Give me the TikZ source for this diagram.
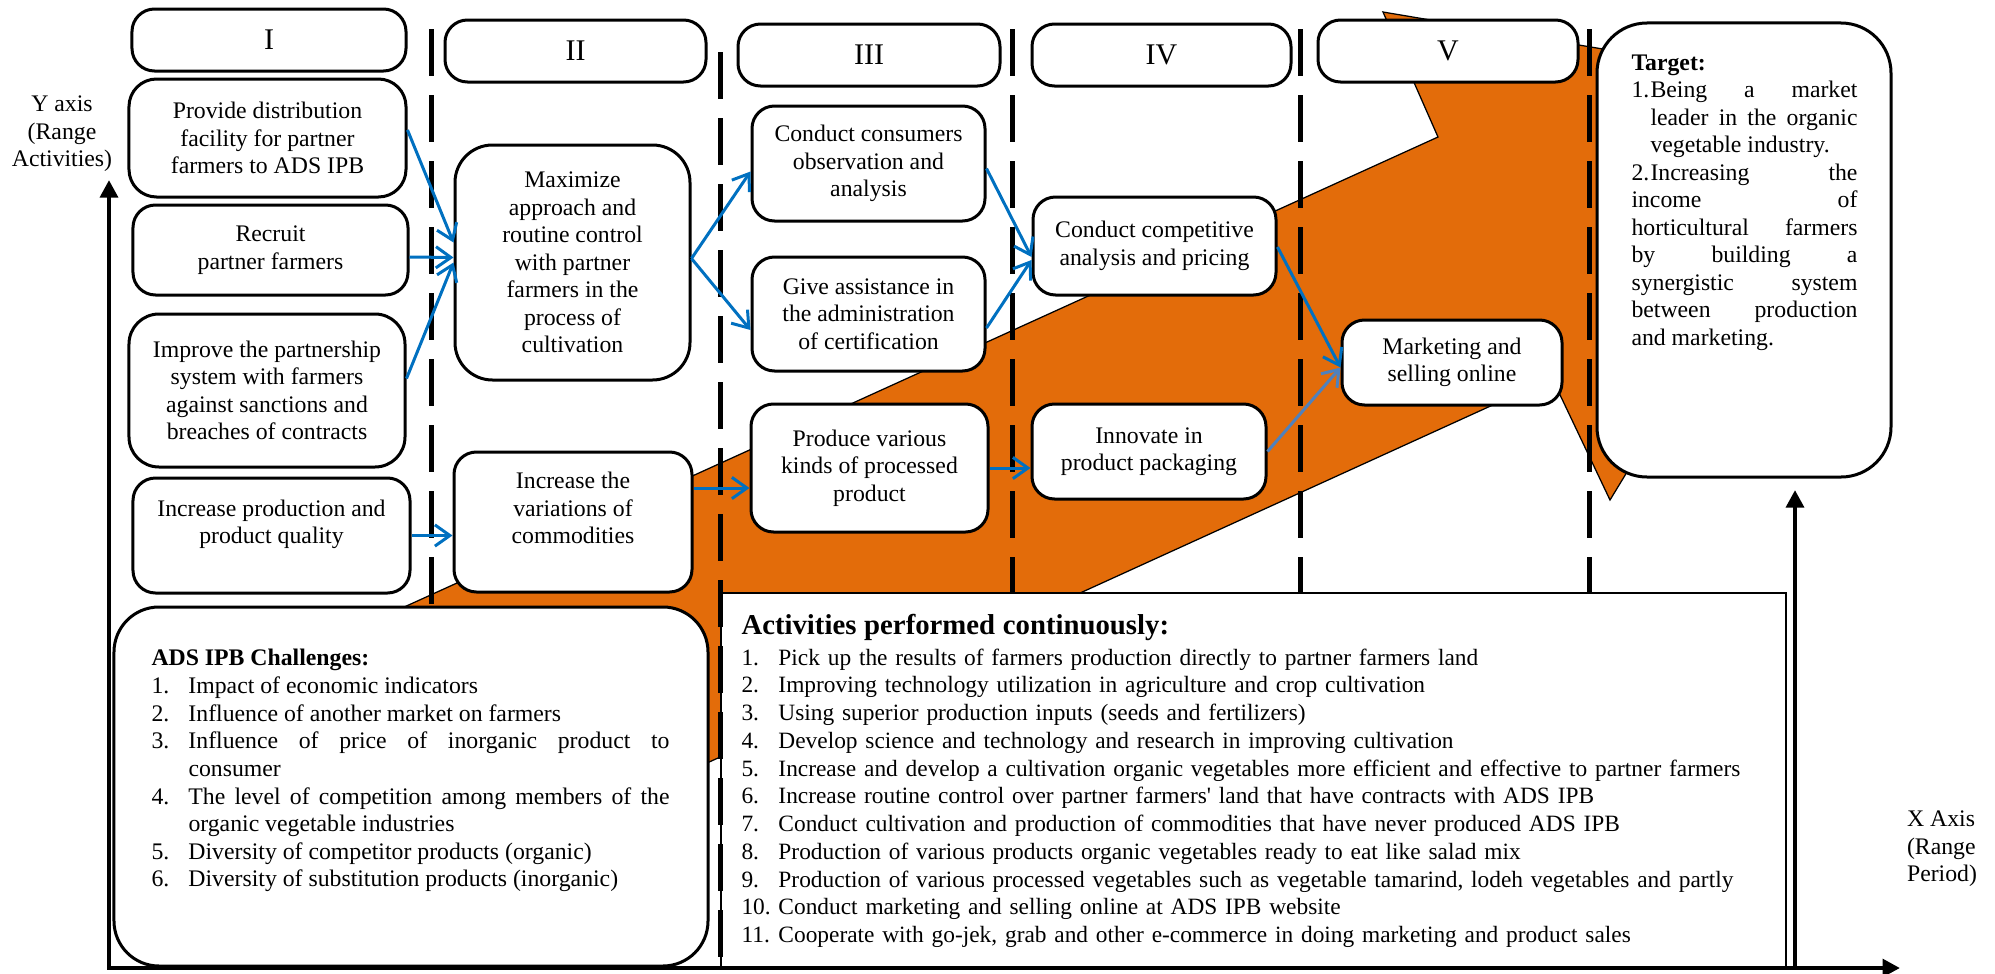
\documentclass[tikz,border=0pt]{standalone}
\usepackage{fontspec}
\setmainfont{Liberation Serif}
\usetikzlibrary{calc,arrows.meta}
\definecolor{adsorange}{RGB}{227,108,10}
\definecolor{adsblue}{RGB}{0,112,192}
\definecolor{adssteel}{RGB}{79,129,189}
\newcommand{\listitem}[3]{\par\hangindent=#1\hangafter=1\noindent\makebox[#1][l]{#2}#3}

\begin{document}
\begin{tikzpicture}[x=0.4pt,y=-0.4pt,
    bodyfont/.style={font=\fontsize{9.5}{11}\selectfont},
    stepbox/.style={draw,line width=1.2pt,fill=white,rounded corners=9pt,align=center,inner sep=2pt,bodyfont},
    headbox/.style={stepbox,font=\fontsize{12}{14}\selectfont},
    bigbox/.style={stepbox,rounded corners=15pt},
    listtext/.style={anchor=north west,inner sep=0pt},
    flowarrow/.style={draw=adsblue,line width=1.2pt,-{Straight Barb[length=6pt,width=8.5pt]}},
    divider/.style={line width=2pt,dash pattern=on 18.8pt off 7.6pt},
    axisarrow/.style={line width=1.8pt,-{Triangle[length=7pt,width=7pt]}}]
    \useasboundingbox (0,0) rectangle (1995,974);

    \filldraw[fill=adsorange,draw=black,line width=0.5pt] (380,618) -- (1438,137) -- (1383,12) -- (1858,92)
      -- (1610,500) -- (1552,378) -- (380,912) -- cycle;

    \node[draw,line width=1.2pt,fill=white,rounded corners=18pt,minimum width=237.6pt,minimum height=143.6pt] (challenge) at (411,786.5) {};
    \node[draw,line width=1pt,fill=white,minimum width=426pt,minimum height=150pt] (activity) at (1253.5,780.5) {};

    \foreach \dx/\dtop/\dbot in {431/29/604, 720/52/966, 1012/29/593, 1300/29/593, 1589/29/593}
      \draw[divider] (\dx,\dtop) -- (\dx,\dbot);

    \node[headbox,minimum width=109.6pt,minimum height=24.8pt] (hdrI) at (269,40) {I};
    \node[headbox,minimum width=104.4pt,minimum height=24.8pt] (hdrII) at (575.5,51) {II};
    \node[headbox,minimum width=104.8pt,minimum height=24.8pt] (hdrIII) at (869,55) {III};
    \node[headbox,minimum width=103.6pt,minimum height=24.8pt] (hdrIV) at (1161.5,55) {IV};
    \node[headbox,minimum width=104pt,minimum height=24.8pt] (hdrV) at (1448,51) {V};

    \node[stepbox,rounded corners=11pt,minimum width=110.8pt,minimum height=47.2pt] (provide) at (267.5,138)
      {Provide distribution\\facility for partner\\farmers to ADS IPB};
    \node[stepbox,minimum width=110pt,minimum height=36pt] (recruit) at (270.5,250) {Recruit\\partner farmers};
    \node[stepbox,rounded corners=12pt,minimum width=110.4pt,minimum height=61.2pt] (improve) at (267,390.5)
      {Improve the partnership\\system with farmers\\against sanctions and\\breaches of contracts};
    \node[stepbox,minimum width=110.8pt,minimum height=46pt] (incprod) at (271.5,535.5)
      {Increase production and\\product quality\\\mbox{}};
    \node[bigbox,minimum width=94pt,minimum height=94pt] (maximize) at (572.5,262.5)
      {Maximize\\approach and\\routine control\\with partner\\farmers in the\\process of\\cultivation};
    \node[stepbox,minimum width=95.2pt,minimum height=56pt] (incvar) at (573,522)
      {Increase the\\variations of\\commodities\\\mbox{}};
    \node[stepbox,minimum width=93.2pt,minimum height=46pt] (consumer) at (868.5,163.5)
      {Conduct consumers\\observation and\\analysis};
    \node[stepbox,minimum width=93.2pt,minimum height=45.6pt] (assist) at (868.5,314)
      {Give assistance in\\the administration\\of certification};
    \node[stepbox,minimum width=94.8pt,minimum height=51.2pt] (produce) at (869.5,468)
      {Produce various\\kinds of processed\\product};
    \node[stepbox,minimum width=97.2pt,minimum height=39.2pt] (compet) at (1154.5,246)
      {Conduct competitive\\analysis and pricing};
    \node[stepbox,minimum width=93.6pt,minimum height=38pt] (innovate) at (1149,451.5)
      {Innovate in\\product packaging};
    \node[stepbox,minimum width=88pt,minimum height=34pt] (market) at (1452,362.5)
      {Marketing and\\selling online};
    \node[stepbox,rounded corners=20pt,minimum width=117.6pt,minimum height=181.6pt] (target) at (1744,250) {};

    \node[listtext,text width=90.4pt,align=justify,bodyfont] (targettxt) at (1631,54) {%
      \textbf{Target:}
      \listitem{7.6pt}{1.}{Being a market\linebreak leader in the organic\linebreak vegetable industry.}
      \listitem{7.6pt}{2.}{Increasing the\linebreak income of\linebreak horticultural farmers\linebreak by building a\linebreak
        synergistic system\linebreak between production\linebreak and marketing.}};
    \node[listtext,text width=207.2pt,align=justify,font=\fontsize{9.5}{11.05}\selectfont] (challengetxt) at (151,649) {%
      \textbf{ADS IPB Challenges:}
      \listitem{14.8pt}{1.}{Impact of economic indicators}
      \listitem{14.8pt}{2.}{Influence of another market on farmers}
      \listitem{14.8pt}{3.}{Influence of price of inorganic product to\linebreak consumer}
      \listitem{14.8pt}{4.}{The level of competition among members of the\linebreak organic vegetable industries}
      \listitem{14.8pt}{5.}{Diversity of competitor products (organic)}
      \listitem{14.8pt}{6.}{Diversity of substitution products (inorganic)}};
    \node[listtext,text width=440pt,align=left,font=\fontsize{9.35}{11.1}\selectfont] (activitytxt) at (741,614) {%
      {\fontsize{11.5}{13}\selectfont\bfseries Activities performed continuously:\par}\vspace{1pt}
      \listitem{14.8pt}{1.}{Pick up the results of farmers production directly to partner farmers land}
      \listitem{14.8pt}{2.}{Improving technology utilization in agriculture and crop cultivation}
      \listitem{14.8pt}{3.}{Using superior production inputs (seeds and fertilizers)}
      \listitem{14.8pt}{4.}{Develop science and technology and research in improving cultivation}
      \listitem{14.8pt}{5.}{Increase and develop a cultivation organic vegetables more efficient and effective to partner farmers}
      \listitem{14.8pt}{6.}{Increase routine control over partner farmers\textquotesingle{} land that have contracts with ADS IPB}
      \listitem{14.8pt}{7.}{Conduct cultivation and production of commodities that have never produced ADS IPB}
      \listitem{14.8pt}{8.}{Production of various products organic vegetables ready to eat like salad mix}
      \listitem{14.8pt}{9.}{Production of various processed vegetables such as vegetable tamarind, lodeh vegetables and partly}
      \listitem{14.8pt}{10.}{Conduct marketing and selling online at ADS IPB website}
      \listitem{14.8pt}{11.}{Cooperate with go-jek, grab and other e-commerce in doing marketing and product sales}};

    \node[align=center,bodyfont] (ylabel) at (62,134) {Y axis\\(Range\\Activities)};
    \node[align=left,bodyfont] (xlabel) at (1942,849) {X Axis\\(Range\\Period)};

    \draw[flowarrow] ($(provide.east)+(0,-8)$) -- ($(maximize.west)+(0,-20)$);
    \draw[flowarrow] ($(recruit.east)+(0,7)$) -- ($(maximize.west)+(0,-5)$);
    \draw[flowarrow] ($(improve.east)+(0,-12)$) -- (maximize.west);
    \draw[flowarrow] (incprod.east) -- (incprod.east -| incvar.west);
    \draw[flowarrow] ($(maximize.east)+(0,-4)$) -- ($(consumer.west)+(0,8)$);
    \draw[flowarrow] ($(maximize.east)+(0,-4)$) -- ($(assist.west)+(0,16)$);
    \draw[flowarrow] ($(consumer.east)+(0,5)$) -- ($(compet.west)+(0,11)$);
    \draw[flowarrow] ($(assist.east)+(0,14)$) -- ($(compet.west)+(0,14)$);
    \coordinate (pvin) at ($(produce.west)+(0,20)$);
    \draw[flowarrow] (incvar.east |- pvin) -- (pvin);
    \draw[flowarrow] (produce.east) -- (produce.east -| innovate.west);
    \draw[flowarrow] ($(compet.east)+(0,1)$) -- ($(market.west)+(0,5)$);
    \draw[flowarrow,draw=adssteel] (innovate.east) -- ($(market.west)+(0,5)$);

    \coordinate (origin) at (109,968);
    \coordinate (ytip) at (109,180);
    \coordinate (xtip) at (1900,968);
    \coordinate (rbase) at (1795,968);
    \coordinate (rtip) at (1795,490);
    \draw[line width=1.8pt,{Triangle[length=7pt,width=7pt]}-{Triangle[length=7pt,width=7pt]}] (ytip) -- (origin) -- (xtip);
    \draw[axisarrow] (rbase) -- (rtip);
  \end{tikzpicture}
\end{document}
